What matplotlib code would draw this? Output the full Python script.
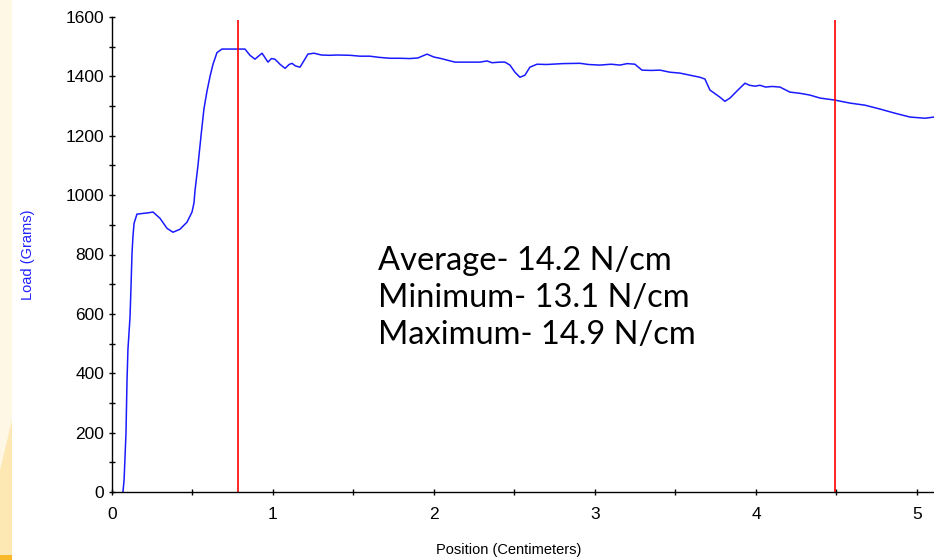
import matplotlib
matplotlib.use("Agg")
import matplotlib.pyplot as plt
from matplotlib.patches import Rectangle, Polygon
from matplotlib.ticker import MultipleLocator

# load trace
position = [0.068, 0.075, 0.087, 0.093, 0.099, 0.112, 0.118, 0.124, 0.130, 0.137,
            0.155, 0.186, 0.220, 0.255, 0.298, 0.342, 0.379, 0.422, 0.466, 0.497,
            0.509, 0.516, 0.534, 0.553, 0.571, 0.590, 0.609, 0.627, 0.652, 0.683,
            0.702, 0.826, 0.857, 0.888, 0.932, 0.969, 0.990, 1.012, 1.045, 1.075,
            1.100, 1.118, 1.140, 1.168, 1.217, 1.255, 1.300, 1.350, 1.400, 1.478,
            1.540, 1.602, 1.660, 1.727, 1.789, 1.850, 1.900, 1.957, 2.000, 2.037,
            2.080, 2.130, 2.200, 2.286, 2.330, 2.360, 2.410, 2.441, 2.472, 2.503,
            2.534, 2.565, 2.596, 2.640, 2.700, 2.800, 2.907, 2.960, 3.031, 3.100,
            3.155, 3.200, 3.248, 3.292, 3.350, 3.404, 3.466, 3.528, 3.590, 3.652,
            3.683, 3.714, 3.776, 3.807, 3.839, 3.888, 3.932, 3.960, 3.994, 4.025,
            4.060, 4.100, 4.149, 4.211, 4.273, 4.335, 4.398, 4.491, 4.584, 4.677,
            4.770, 4.863, 4.957, 5.050, 5.106]
load = [0, 40, 200, 370, 480, 590, 690, 800, 860, 905,
        936, 938, 940, 943, 922, 888, 875, 885, 909, 943,
        973, 1017, 1100, 1200, 1290, 1350, 1400, 1440, 1480, 1492,
        1492, 1492, 1471, 1458, 1478, 1448, 1460, 1458, 1440, 1427,
        1440, 1444, 1435, 1431, 1475, 1478, 1472, 1471, 1472, 1471,
        1468, 1468, 1464, 1461, 1461, 1460, 1462, 1475, 1465, 1461,
        1455, 1448, 1448, 1448, 1452, 1446, 1448, 1448, 1438, 1414,
        1397, 1404, 1431, 1441, 1440, 1443, 1444, 1440, 1438, 1441,
        1438, 1443, 1441, 1421, 1420, 1421, 1414, 1411, 1404, 1397,
        1391, 1354, 1330, 1316, 1327, 1354, 1377, 1370, 1367, 1370,
        1364, 1366, 1364, 1347, 1343, 1337, 1327, 1320, 1310, 1303,
        1290, 1276, 1263, 1259, 1263]

markers = [0.78, 4.49]
marker_top = 1590
stats = ["Average- 14.2 N/cm", "Minimum- 13.1 N/cm", "Maximum- 14.9 N/cm"]

plt.rcParams['font.family'] = ['Liberation Sans', 'DejaVu Sans']

fig = plt.figure(figsize=(9.34, 5.6), dpi=100)

# slide background strip on the left
fig.patches.append(Rectangle((0, 0), 12 / 934, 1, transform=fig.transFigure,
                             facecolor='#fef7e6', edgecolor='none', zorder=0))
fig.patches.append(Polygon([(0, 0), (12 / 934, 0), (12 / 934, 0.25), (0, 0.16)],
                           closed=True, transform=fig.transFigure,
                           facecolor='#fde8b4', edgecolor='none', zorder=0))
fig.patches.append(Rectangle((0, 0), 12 / 934, 5 / 560, transform=fig.transFigure,
                             facecolor='#f7b928', edgecolor='none', zorder=0))

ax = fig.add_axes([112 / 934, 1 - 492 / 560, 1 - 112 / 934, 475 / 560])
ax.patch.set_alpha(0)

ax.plot(position, load, color='#1a1aff', lw=1.1)
ax.vlines(markers, 0, marker_top, color='#ff0000', lw=1.2)

ax.set_xlim(0, 5.106)
ax.set_ylim(0, 1600)
ax.spines['top'].set_visible(False)
ax.spines['right'].set_visible(False)
ax.spines['left'].set_linewidth(1.0)
ax.spines['bottom'].set_linewidth(1.0)

ax.xaxis.set_major_locator(MultipleLocator(1))
ax.xaxis.set_minor_locator(MultipleLocator(0.5))
ax.yaxis.set_major_locator(MultipleLocator(200))
ax.yaxis.set_minor_locator(MultipleLocator(100))
ax.tick_params(which='both', direction='inout', length=5, width=1, labelsize=12.5)
ax.tick_params(axis='x', pad=8)
ax.tick_params(axis='y', pad=3)

ax.set_xlabel("Position (Centimeters)", fontsize=10.5)
ax.set_ylabel("Load (Grams)", fontsize=10.5, color='#2020ff')
ax.xaxis.set_label_coords(0.482, -0.108)
ax.yaxis.set_label_coords(-0.094, 0.5)

ax.text(0.3236, 0.408, "\n".join(stats), transform=ax.transAxes,
        ha='left', va='center', fontsize=23.5, family=['Lato', 'DejaVu Sans'],
        linespacing=1.3)

fig.savefig("out.png", dpi=100)
